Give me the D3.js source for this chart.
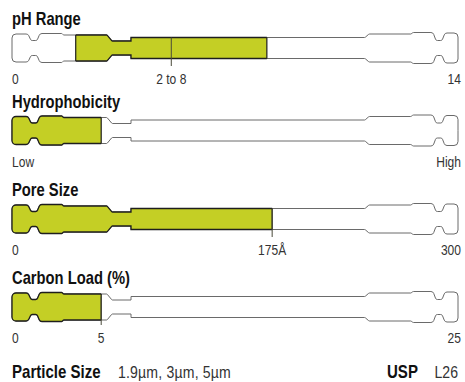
<!DOCTYPE html>
<html><head><meta charset="utf-8">
<script src="https://cdn.jsdelivr.net/npm/d3@7"></script>
<style>
html,body{margin:0;padding:0;background:#fff;}
svg{display:block;}
</style></head><body>
<svg id="chart" width="465" height="382"></svg>
<script>
// Column property gauges: one HPLC-column glyph per property, filled to its value
const metrics = ["pH Range", "Hydrophobicity", "Pore Size", "Carbon Load (%)"];
const domainMin = [0, 0, 0, 0];
const domainMax = [14, 5, 300, 25];
const fillFrom = [2, 0, 0, 0];
const fillTo = [8, 1, 175, 5];
const minLabels = ["0", "Low", "0", "0"];
const maxLabels = ["14", "High", "300", "25"];
const markerValue = [5, null, 175, 5];
const markerLabel = ["2 to 8", null, "175Å", "5"];
const particleSizes = ["1.9µm", "3µm", "5µm"];
const uspCode = "L26";

// layout
const X0 = 12, X1 = 458;
const rowCenters = [48, 130.5, 219, 307];
const fillColor = "#c4cf25";
const font = "'Liberation Sans', Arial, sans-serif";

// column outline profile: [x offset, half height, corner radius]
const leftProfile = [[0,14,4],[16,14,3],[19,7.5,2],[25,7.5,2],[28,14.5,3],[50,14.5,0.8],[51.5,13,0.8],[95,13,1],[100,7,1],[119,7,0],[119,10.5,0]];
const rightProfile = [[-93,10.5,1],[-89,14,2],[-47,14,0.8],[-45,15.5,2],[-25,15.5,3],[-22,7.5,2],[-16,7.5,2],[-13,15,3],[0,15,4]];

function columnPath(cy) {
  const top = leftProfile.map(([dx,h,r]) => [X0+dx, cy-h, r])
    .concat(rightProfile.map(([dx,h,r]) => [X1+dx, cy-h, r]));
  const bottom = top.slice().reverse().map(([x,y,r]) => [x, 2*cy-y, r]);
  const pts = [[X0, cy, 0], ...top, [X1, cy, 0], ...bottom];
  const p = d3.path();
  p.moveTo(X0, cy);
  for (let i = 1; i < pts.length; i++) {
    const [x, y, r] = pts[i];
    const n = pts[(i+1) % pts.length];
    if (r > 0) p.arcTo(x, y, n[0], n[1], r); else p.lineTo(x, y);
  }
  p.closePath();
  return p.toString();
}

const svg = d3.select("#chart");
const defs = svg.append("defs");

// condensed text helper: horizontal squeeze around the anchor point
function label(parent, x, y, str, opts) {
  const o = Object.assign({size: 14, sx: 0.86, weight: "normal", anchor: "start", fill: "#333"}, opts);
  return parent.append("text")
    .attr("transform", `translate(${x},${y}) scale(${o.sx},1)`)
    .attr("text-anchor", o.anchor)
    .attr("font-family", font).attr("font-weight", o.weight).attr("font-size", o.size)
    .attr("letter-spacing", o.ls || 0)
    .attr("fill", o.fill).text(str);
}

metrics.forEach((name, i) => {
  const cy = rowCenters[i];
  const x = d3.scaleLinear().domain([domainMin[i], domainMax[i]]).range([X0, X1]);
  const d = columnPath(cy);
  const g = svg.append("g");

  defs.append("clipPath").attr("id", "shape" + i).append("path").attr("d", d);
  const xa = x(fillFrom[i]), xb = x(fillTo[i]);
  const xaPad = fillFrom[i] === domainMin[i] ? xa - 3 : xa;
  defs.append("clipPath").attr("id", "filled" + i).append("rect")
    .attr("x", xaPad).attr("y", cy - 25).attr("width", xb - xaPad).attr("height", 50);

  // title
  label(g, X0, cy - 23, name, {size: 18, sx: 0.82, weight: "bold", fill: "#111"});

  // empty column body
  g.append("path").attr("d", d).attr("fill", "#fff").attr("stroke", "#6a6a6a").attr("stroke-width", 1);

  // filled portion
  g.append("rect").attr("clip-path", `url(#shape${i})`)
    .attr("x", xaPad).attr("y", cy - 25).attr("width", xb - xaPad).attr("height", 50)
    .attr("fill", fillColor);
  g.append("path").attr("d", d).attr("clip-path", `url(#filled${i})`)
    .attr("fill", "none").attr("stroke", "#1e1e1e").attr("stroke-width", 1.3);
  const edges = fillFrom[i] === domainMin[i] ? [xb] : [xa, xb];
  g.selectAll(null).data(edges).join("line").attr("clip-path", `url(#shape${i})`)
    .attr("x1", v => v).attr("x2", v => v).attr("y1", cy - 20).attr("y2", cy + 20)
    .attr("stroke", "#1e1e1e").attr("stroke-width", 1.2);

  // marker tick
  if (markerValue[i] !== null) {
    const mx = x(markerValue[i]);
    g.append("line").attr("x1", mx).attr("x2", mx).attr("y1", cy - 10.5).attr("y2", cy + 18)
      .attr("stroke", "#4a4a3a").attr("stroke-width", 1);
    label(g, mx, cy + 36, markerLabel[i], {anchor: "middle"});
  }

  // scale end labels
  label(g, X0, cy + 36, minLabels[i]);
  label(g, X1 + 3, cy + 36, maxLabels[i], {anchor: "end"});
});

// footer
const fy = 378;
label(svg, X0, fy, "Particle Size", {size: 17.5, sx: 0.86, weight: "bold", fill: "#111"});
label(svg, 118, fy, particleSizes.join(", "), {size: 16, sx: 0.88, ls: 0.2});
label(svg, 387, fy, "USP", {size: 17.5, sx: 0.86, weight: "bold", fill: "#111"});
label(svg, X1, fy, uspCode, {size: 16, sx: 0.88, anchor: "end"});
</script>
</body></html>
